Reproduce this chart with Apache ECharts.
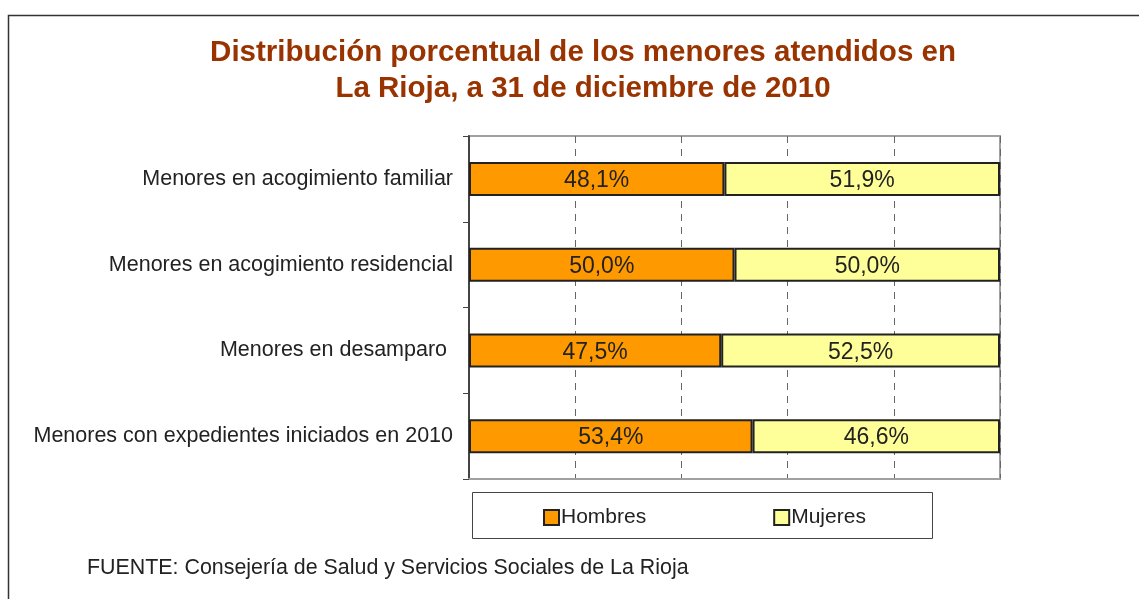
<!DOCTYPE html>
<html>
<head>
<meta charset="utf-8">
<script src="https://cdn.jsdelivr.net/npm/echarts@6/dist/echarts.min.js"></script>
<style>
  html, body { margin: 0; padding: 0; background: #fff; }
  #chart { width: 1139px; height: 599px; }
</style>
</head>
<body>
<div id="chart"></div>
<script>
  // datos
  var categorias = [
    'Menores en acogimiento familiar',
    'Menores en acogimiento residencial',
    'Menores en desamparo ',
    'Menores con expedientes iniciados en 2010'
  ];
  var hombres = [48.1, 50.0, 47.5, 53.4];
  var mujeres = [51.9, 50.0, 52.5, 46.6];
  var titulo = ['Distribución porcentual de los menores atendidos en', 'La Rioja, a 31 de diciembre de 2010'];
  var fuente = 'FUENTE: Consejería de Salud y Servicios Sociales de La Rioja';

  var fontFam = '"Liberation Sans", Arial, sans-serif';

  function fmt(p) {
    return p.value.toFixed(1).replace('.', ',') + '%';
  }

  var chart = echarts.init(document.getElementById('chart'));
  chart.setOption({
    animation: false,
    textStyle: { fontFamily: fontFam },
    graphic: [
      {
        type: 'rect', silent: true,
        shape: { x: 8.5, y: 15.5, width: 1200, height: 700 },
        style: { fill: 'none', stroke: '#333', lineWidth: 1.5 }
      },
      {
        type: 'text', x: 583, y: 53,
        style: { text: titulo[0], fill: '#993300', font: 'bold 29.5px ' + fontFam, align: 'center', verticalAlign: 'middle' }
      },
      {
        type: 'text', x: 583, y: 89,
        style: { text: titulo[1], fill: '#993300', font: 'bold 29.5px ' + fontFam, align: 'center', verticalAlign: 'middle' }
      },
      {
        type: 'rect', silent: true,
        shape: { x: 472.5, y: 492.5, width: 460, height: 46 },
        style: { fill: '#fff', stroke: '#444', lineWidth: 1 }
      },
      {
        type: 'text', x: 87, y: 568,
        style: { text: fuente, fill: '#222', font: '21.4px ' + fontFam, verticalAlign: 'middle' }
      }
    ],
    legend: {
      data: ['Hombres', 'Mujeres'],
      left: 538, top: 502,
      itemWidth: 15, itemHeight: 15, itemGap: 127,
      icon: 'rect',
      textStyle: { fontSize: 21, color: '#222', padding: [0, 0, 0, -3] },
      z: 10
    },
    grid: {
      left: 469, right: 139, top: 136, bottom: 120,
      show: true, borderColor: '#a0a0a0', borderWidth: 2
    },
    xAxis: {
      type: 'value', min: 0, max: 100, interval: 20,
      axisLabel: { show: false },
      axisTick: { show: false },
      axisLine: { show: true, lineStyle: { color: '#a0a0a0', width: 2 } },
      splitLine: { show: true, lineStyle: { color: '#666', type: [7, 6], width: 1 } }
    },
    yAxis: {
      type: 'category', inverse: true,
      data: categorias,
      axisLine: { show: true, lineStyle: { color: '#444', width: 2 } },
      axisTick: { show: true, length: 6, lineStyle: { color: '#444', width: 1 } },
      axisLabel: { fontSize: 21.5, color: '#222', margin: 16 }
    },
    series: [
      {
        name: 'Hombres', type: 'bar', stack: 'total', data: hombres, barWidth: 34,
        itemStyle: { color: '#FF9900', borderColor: '#222', borderWidth: 2 },
        label: { show: true, position: 'inside', offset: [0, 2], formatter: fmt, fontSize: 23, color: '#222' }
      },
      {
        name: 'Mujeres', type: 'bar', stack: 'total', data: mujeres, barWidth: 34,
        itemStyle: { color: '#FFFF99', borderColor: '#222', borderWidth: 2 },
        label: { show: true, position: 'inside', offset: [0, 2], formatter: fmt, fontSize: 23, color: '#222' }
      }
    ]
  });
</script>
</body>
</html>
